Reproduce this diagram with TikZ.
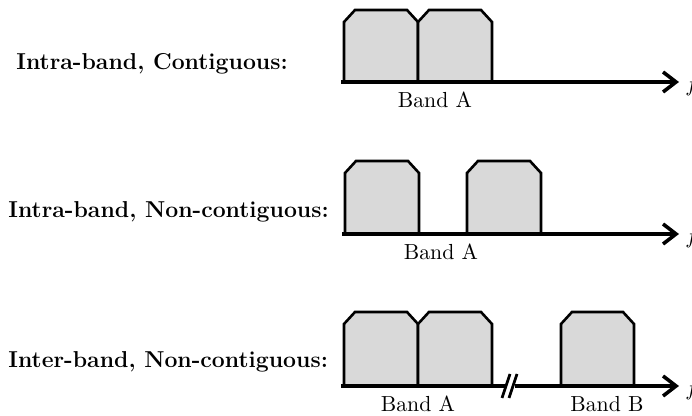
\documentclass[tikz,border=0pt]{standalone}
\usetikzlibrary{arrows.meta}
\definecolor{bandfill}{RGB}{217,217,217}
\begin{document}
\begin{tikzpicture}[x=0.5pt,y=-0.5pt,
  carrier/.style={draw=black,fill=bandfill,line width=1.3pt,line join=miter},
  axisline/.style={line width=1.8pt},
  axisarrow/.style={line width=1.8pt,-{Straight Barb[length=6.5pt,width=10pt,line width=1.8pt]}},
  rowlabel/.style={font=\fontsize{11.5}{13}\selectfont\bfseries,inner sep=0pt,anchor=base west},
  bandlabel/.style={font=\fontsize{10.9}{13}\selectfont,inner sep=0pt,anchor=base},
  flabel/.style={font=\fontsize{10.9}{13}\selectfont,inner sep=0pt,anchor=base west}]
\useasboundingbox (0,0) rectangle (692,416);
% carrier shape: left x, right x, top y, bottom y
\newcommand{\carrierblk}[4]{%
  \path[carrier] (#1,#4) -- (#1,#3+12) -- (#1+11,#3) -- (#2-11,#3) -- (#2,#3+12) -- (#2,#4) -- cycle;}
% ---------- Row 1 ----------
\node[rowlabel] (l1) at (16,70) {Intra-band, Contiguous:};
\carrierblk{344}{418}{10}{82}
\carrierblk{418}{492}{10}{82}
\coordinate (a1s) at (341,82);
\coordinate (a1e) at (679,82);
\draw[axisarrow] (a1s) -- (a1e);
\node[bandlabel] (b1) at (435,108) {Band A};
\node[flabel] (f1) at (685,92) {$f$};
% ---------- Row 2 ----------
\node[rowlabel] (l2) at (8,218) {Intra-band, Non-contiguous:};
\carrierblk{345}{419}{161}{234}
\carrierblk{467}{541}{161}{234}
\coordinate (a2s) at (342,234);
\coordinate (a2e) at (679,234);
\draw[axisarrow] (a2s) -- (a2e);
\node[bandlabel] (b2) at (441,260) {Band A};
\node[flabel] (f2) at (685,244) {$f$};
% ---------- Row 3 ----------
\node[rowlabel] (l3) at (8,368) {Inter-band, Non-contiguous:};
\carrierblk{344}{418}{312}{386}
\carrierblk{418}{492}{312}{386}
\carrierblk{561}{634}{312}{386}
\coordinate (a3s) at (341,386);
\coordinate (a3m1) at (506,386);
\coordinate (a3m2) at (515,386);
\coordinate (a3e) at (679,386);
\draw[axisline] (a3s) -- (a3m1);
\draw[axisarrow] (a3m2) -- (a3e);
\coordinate (s1a) at (502,398);
\coordinate (s1b) at (510,374);
\coordinate (s2a) at (509,398);
\coordinate (s2b) at (517,374);
\draw[line width=1.4pt] (s1a) -- (s1b);
\draw[line width=1.4pt] (s2a) -- (s2b);
\node[bandlabel] (b3) at (418,412) {Band A};
\node[bandlabel] (b4) at (607,412) {Band B};
\node[flabel] (f3) at (685,396) {$f$};
\end{tikzpicture}
\end{document}
